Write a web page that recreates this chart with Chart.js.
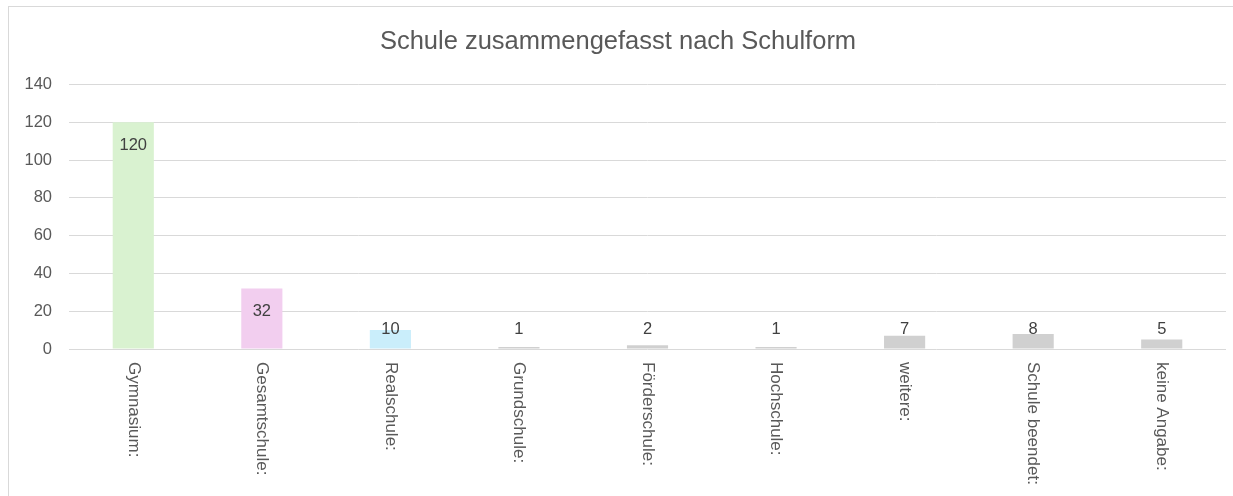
<!DOCTYPE html>
<html>
<head>
<meta charset="utf-8">
<script src="https://cdn.jsdelivr.net/npm/chart.js@4.4.1/dist/chart.umd.min.js"></script>
<style>
  html, body { margin: 0; padding: 0; background: #fff; overflow: hidden; }
  #frame { position: absolute; left: 8px; top: 6px; width: 1240px; height: 510px; border: 1px solid #d9d9d9; }
  #wrap { position: absolute; left: 0; top: 0; width: 1233px; height: 496px; }
</style>
</head>
<body>
<div id="frame"></div>
<div id="wrap"><canvas id="chart"></canvas></div>
<script>
// Kategorien und Werte
const categories = ["Gymnasium:", "Gesamtschule:", "Realschule:", "Grundschule:", "Förderschule:", "Hochschule:", "weitere:", "Schule beendet:", "keine Angabe:"];
const values = [120, 32, 10, 1, 2, 1, 7, 8, 5];
const barColors = ["#d9f2d0", "#f2ceef", "#caeefb", "#d0d0d0", "#d0d0d0", "#d0d0d0", "#d0d0d0", "#d0d0d0", "#d0d0d0"];
const chartTitle = "Schule zusammengefasst nach Schulform";

const FONT = "'Liberation Sans', Arial, sans-serif";

// Datenbeschriftungen (innen oben, bei kleinen Balken über der Achse)
const valueLabels = {
    id: "valueLabels",
    afterDatasetsDraw(chart) {
        const ctx = chart.ctx;
        const yScale = chart.scales.y;
        const zero = yScale.getPixelForValue(0);
        ctx.save();
        ctx.font = "16.5px " + FONT;
        ctx.fillStyle = "#404040";
        ctx.textAlign = "center";
        ctx.textBaseline = "middle";
        chart.getDatasetMeta(0).data.forEach((bar, i) => {
            const y = Math.min(bar.y + 23, zero - 20);
            ctx.fillText(String(values[i]), bar.x, y);
        });
        ctx.restore();
    }
};

// Achsenbeschriftungen senkrecht, von oben nach unten lesbar
const verticalLabels = {
    id: "verticalLabels",
    afterDraw(chart) {
        const ctx = chart.ctx;
        const xScale = chart.scales.x;
        const zero = chart.scales.y.getPixelForValue(0);
        ctx.save();
        ctx.font = "17px " + FONT;
        ctx.fillStyle = "#595959";
        ctx.textAlign = "left";
        ctx.textBaseline = "middle";
        categories.forEach((label, i) => {
            const x = xScale.getPixelForTick(i);
            ctx.save();
            ctx.translate(x, zero + 13);
            ctx.rotate(Math.PI / 2);
            ctx.fillText(label, 0, 0);
            ctx.restore();
        });
        ctx.restore();
    }
};

new Chart(document.getElementById("chart"), {
    type: "bar",
    data: {
        labels: categories,
        datasets: [{
            data: values,
            backgroundColor: barColors,
            borderWidth: 0,
            barPercentage: 0.32,
            categoryPercentage: 1
        }]
    },
    options: {
        responsive: true,
        maintainAspectRatio: false,
        animation: false,
        layout: { padding: { left: 10, right: 7, top: 0, bottom: 0 } },
        plugins: {
            legend: { display: false },
            tooltip: { enabled: false },
            title: {
                display: true,
                text: chartTitle,
                color: "#595959",
                font: { family: FONT, size: 25.5, weight: "normal" },
                padding: { top: 27, bottom: 27 }
            }
        },
        scales: {
            x: {
                grid: { display: false },
                border: { display: false },
                ticks: { display: false },
                afterFit: s => { s.height = 147; }
            },
            y: {
                min: 0,
                max: 140,
                ticks: {
                    stepSize: 20,
                    color: "#595959",
                    font: { family: FONT, size: 16.5 },
                    padding: 17
                },
                grid: { color: "#d9d9d9", drawTicks: false, lineWidth: 1 },
                border: { display: false },
                afterFit: s => { s.width = 59; }
            }
        }
    },
    plugins: [valueLabels, verticalLabels]
});
</script>
</body>
</html>
